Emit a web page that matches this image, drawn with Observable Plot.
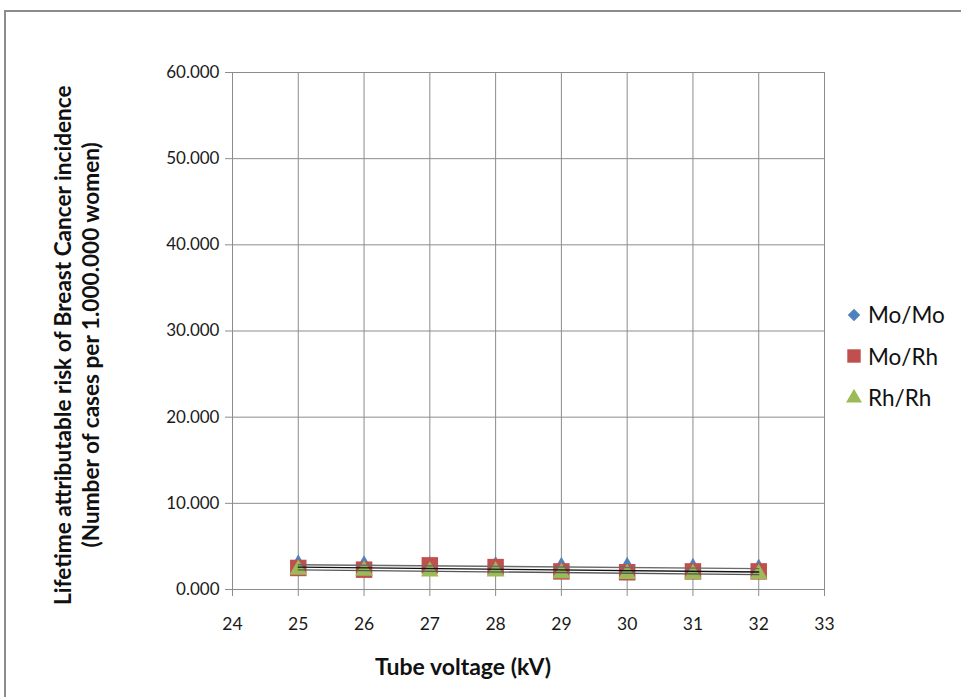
<!DOCTYPE html>
<html>
<head>
<meta charset="utf-8">
<script src="https://cdn.jsdelivr.net/npm/d3@7"></script>
<script src="https://cdn.jsdelivr.net/npm/@observablehq/plot@0.6"></script>
<style>
  body { margin: 0; background: #fff; }
  #wrap { position: relative; width: 961px; height: 697px; overflow: hidden; font-family: Lato, "Open Sans", sans-serif; }
  #border { position: absolute; left: 4px; top: 10px; width: 1100px; height: 1000px; border: 2px solid #8c8c8c; }
  #chart { position: absolute; left: 0; top: 0; }
  .ylab { position: absolute; left: 0; top: 0; white-space: nowrap; font-weight: bold; font-size: 22.6px; color: #111; transform-origin: 0 0; }
  #xlab { position: absolute; top: 652px; left: 0; width: 926px; text-align: center; font-weight: bold; font-size: 23px; color: #111; }
  #legend { position: absolute; left: 845px; top: 294px; font-size: 22.5px; color: #111; }
  .li { display: flex; align-items: center; height: 41.5px; }
  .li svg { margin-right: 5px; }
</style>
</head>
<body>
<div id="wrap">
  <div id="border"></div>
  <div id="chart"></div>
  <div id="ylab1" class="ylab">Lifetime attributable risk of Breast Cancer incidence</div>
  <div id="ylab2" class="ylab">(Number of cases per 1.000.000 women)</div>
  <div id="xlab">Tube voltage (kV)</div>
  <div id="legend"></div>
</div>
<script>
const voltages = [25, 26, 27, 28, 29, 30, 31, 32];
const moMo = [2.9, 2.8, 2.7, 2.7, 2.6, 2.6, 2.5, 2.4];
const moRh = [2.5, 2.3, 2.8, 2.6, 2.1, 2.0, 2.1, 2.1];
const rhRh = [2.3, 2.2, 2.1, 2.1, 1.9, 1.8, 1.8, 1.8];
const seriesNames = ["Mo/Mo", "Mo/Rh", "Rh/Rh"];
const xTicks = [24, 25, 26, 27, 28, 29, 30, 31, 32, 33];
const yTicks = [0, 10, 20, 30, 40, 50, 60];
const yTickLabels = ["0.000", "10.000", "20.000", "30.000", "40.000", "50.000", "60.000"];

const colors = {"Mo/Mo": "#4F81BD", "Mo/Rh": "#C0504D", "Rh/Rh": "#9BBB59"};
const symbols = {"Mo/Mo": "diamond", "Mo/Rh": "square", "Rh/Rh": "triangle"};
const sizes = {"Mo/Mo": 6.2, "Mo/Rh": 9.3, "Rh/Rh": 6.6};
const trendStroke = {"Mo/Mo": "#6a6a6a", "Mo/Rh": "#111", "Rh/Rh": "#555"};

const valuesBy = {"Mo/Mo": moMo, "Mo/Rh": moRh, "Rh/Rh": rhRh};
const data = seriesNames.flatMap(s => voltages.map((v, i) => ({series: s, kv: v, value: valuesBy[s][i]})));

const grid = "#8c8c8c";
const fmtY = d => yTickLabels[yTicks.indexOf(d)];

const marks = [
  Plot.gridX(xTicks, {stroke: grid, strokeOpacity: 1}),
  Plot.gridY(yTicks, {stroke: grid, strokeOpacity: 1}),
  Plot.axisX(xTicks, {tickSize: 7, tickPadding: 21, stroke: grid, fontSize: 17.5, fill: "#1a1a1a"}),
  Plot.axisY(yTicks, {tickSize: 7, tickPadding: 6, stroke: grid, fontSize: 17, fill: "#1a1a1a", tickFormat: fmtY}),
  Plot.ruleY([0], {stroke: grid}),
  Plot.ruleX([24], {stroke: grid})
];
for (const s of seriesNames) {
  marks.push(Plot.dot(data.filter(d => d.series === s), {
    x: "kv", y: "value", symbol: symbols[s], r: sizes[s], fill: colors[s], stroke: "none"
  }));
}
for (const s of seriesNames) {
  marks.push(Plot.linearRegressionY(data.filter(d => d.series === s), {
    x: "kv", y: "value", stroke: trendStroke[s], strokeWidth: 1.4, ci: 0
  }));
}

const chart = Plot.plot({
  width: 961,
  height: 697,
  marginLeft: 232,
  marginRight: 137,
  marginTop: 72,
  marginBottom: 108,
  x: {domain: [24, 33], label: null},
  y: {domain: [0, 60], label: null},
  style: {fontFamily: "Lato, 'Open Sans', sans-serif", background: "transparent"},
  marks
});
document.getElementById("chart").appendChild(chart);

// Rotated y-axis labels
function placeY(id, cx, cy) {
  const el = document.getElementById(id);
  const w = el.offsetWidth, h = el.offsetHeight;
  el.style.transform = `translate(${cx - h / 2}px, ${cy + w / 2}px) rotate(-90deg)`;
}
placeY("ylab1", 62, 345);
placeY("ylab2", 90, 345);

// Legend
const legend = document.getElementById("legend");
for (const s of seriesNames) {
  const row = document.createElement("div");
  row.className = "li";
  const sym = d3.symbol(s === "Mo/Mo" ? d3.symbolDiamond2 : s === "Mo/Rh" ? d3.symbolSquare : d3.symbolTriangle,
    s === "Mo/Mo" ? 100 : s === "Mo/Rh" ? 180 : 110)();
  row.innerHTML = `<svg width="18" height="18" viewBox="-9 -9 18 18"><path d="${sym}" fill="${colors[s]}"/></svg><span>${s}</span>`;
  legend.appendChild(row);
}
</script>
</body>
</html>
